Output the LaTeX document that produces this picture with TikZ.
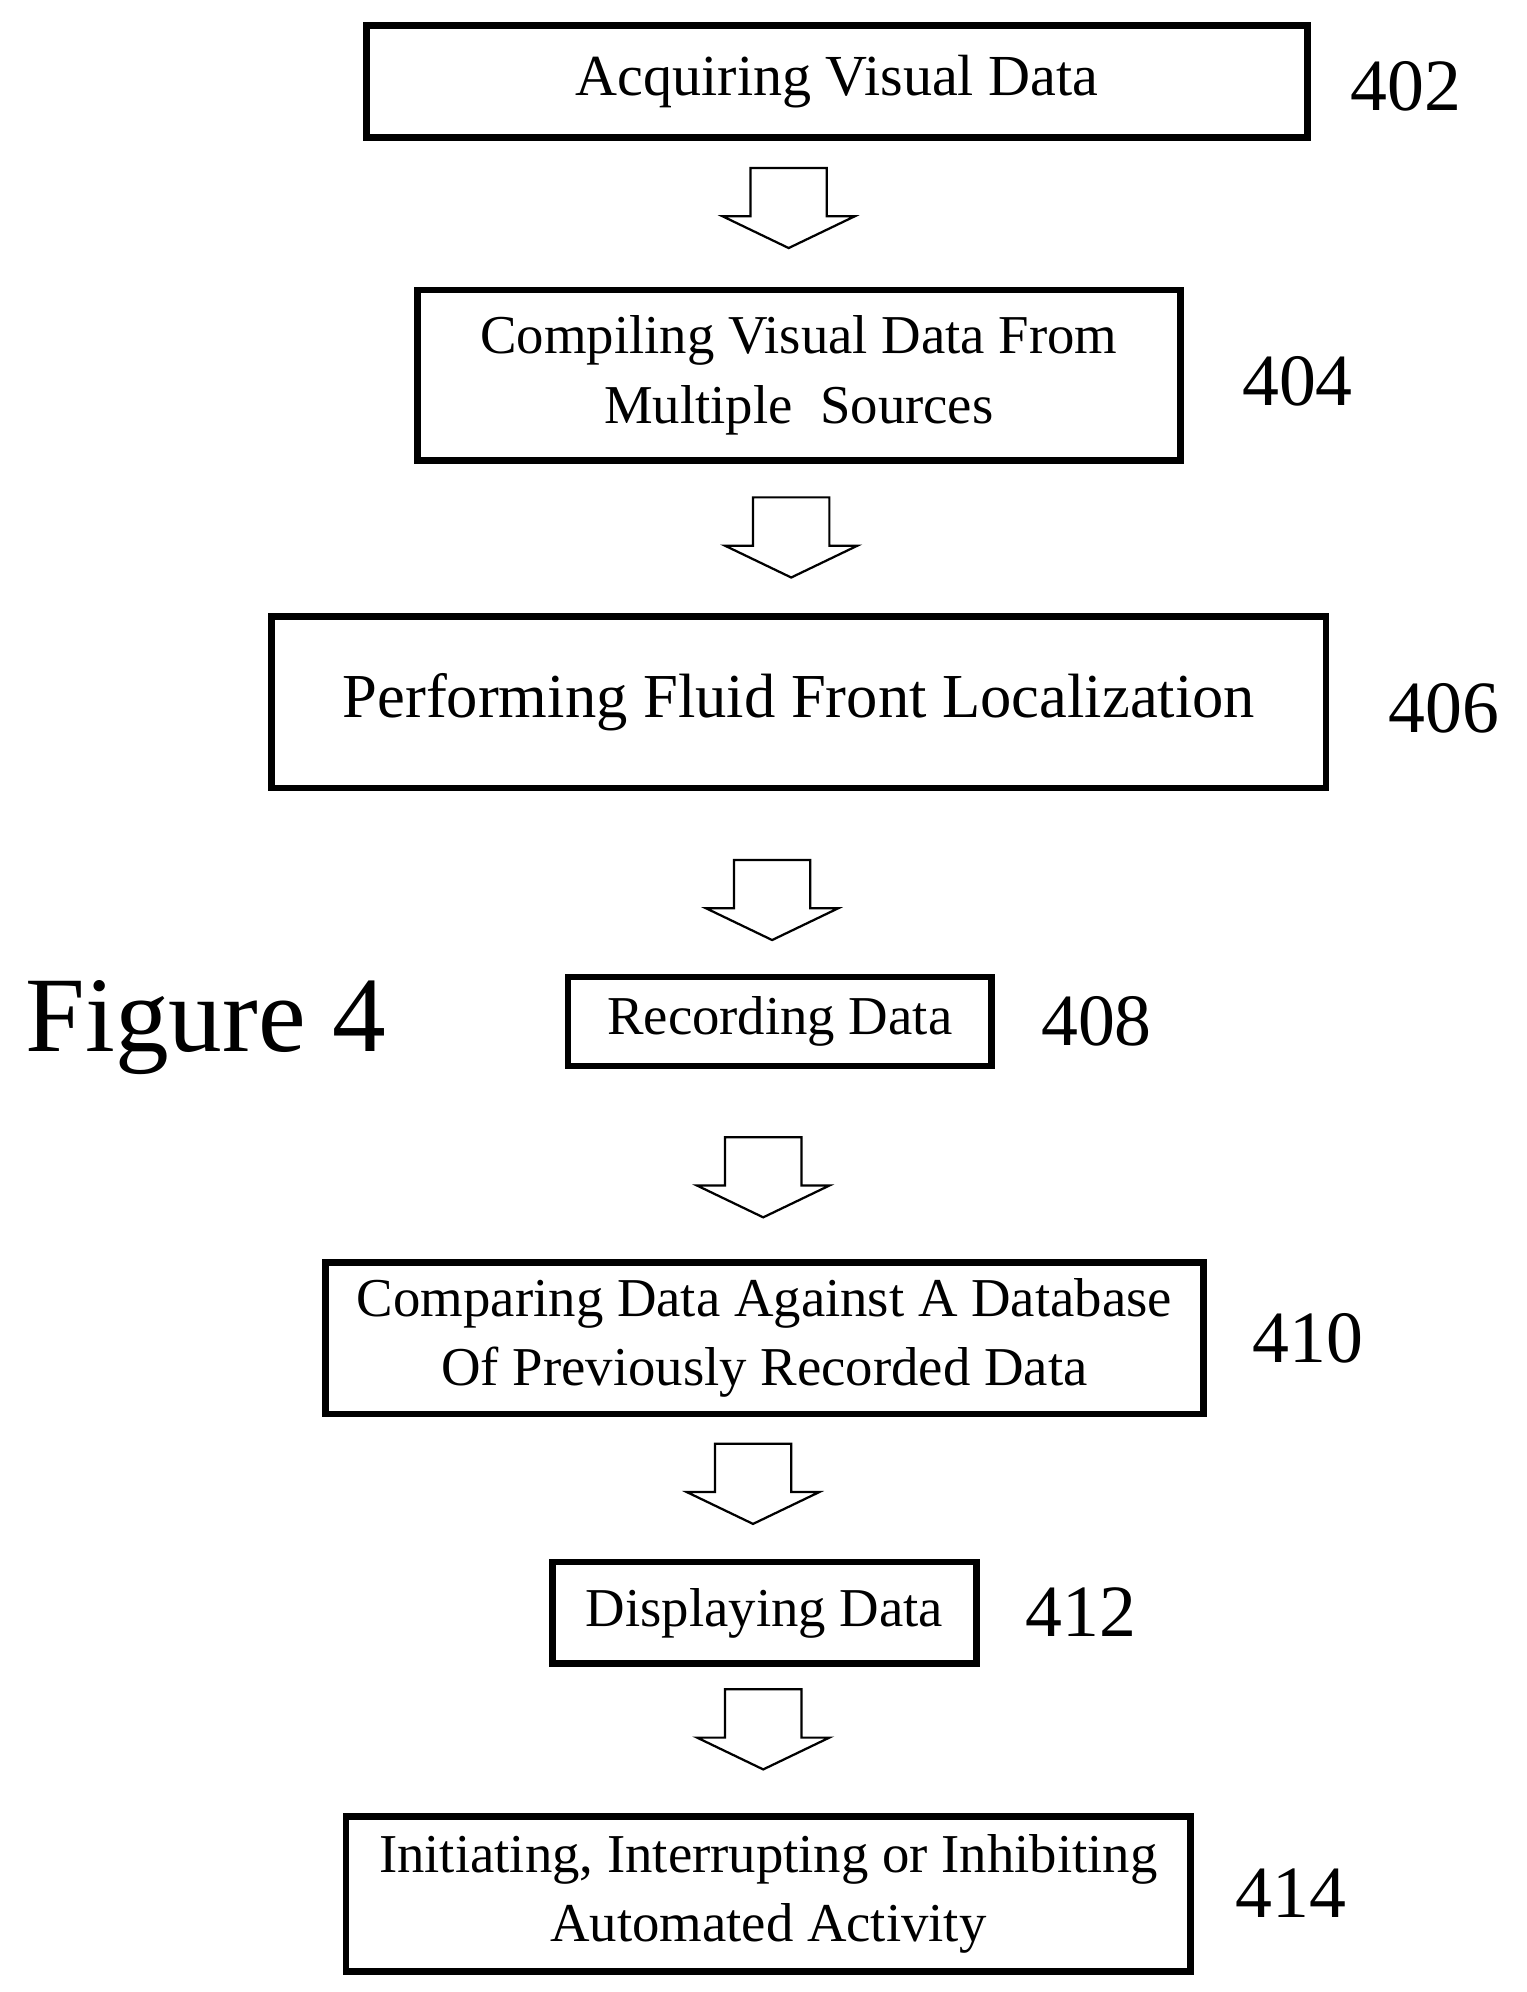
\documentclass[tikz,border=0pt]{standalone}
\usepackage{fontspec}
\setmainfont{Liberation Serif}
\usetikzlibrary{positioning,calc}
\tikzset{
  stepbox/.style={draw, line width=3pt, inner sep=0pt, align=center, font=\fontsize{24.5}{31}\selectfont},
  num/.style={font=\fontsize{33}{34}\selectfont},
  blockarrow/.style={draw, line width=1pt, fill=white},
}
% block arrow below a point
\newcommand{\downarrowat}[1]{%
  \draw[blockarrow] ($(#1)+(-30,0)$) -- ++(60,0) -- ++(0,38) -- ++(22,0)
    -- ($(#1)+(0,63)$) -- ($(#1)+(-52,38)$) -- ++(22,0) -- cycle;}
\begin{document}
\begin{tikzpicture}[x=0.02cm, y=-0.02cm]
\useasboundingbox (0,0) rectangle (1200,1566);

% steps
\node[stepbox, minimum width=740*0.02cm, minimum height=88*0.02cm, font=\fontsize{26}{30}\selectfont] (s402) at (658,64) {Acquiring Visual Data};
\node[stepbox, minimum width=600*0.02cm, minimum height=134*0.02cm] (s404) at (628,295) {Compiling Visual Data From\\Multiple\ \ Sources};
\node[stepbox, minimum width=829*0.02cm, minimum height=135*0.02cm, font=\fontsize{28}{30}\selectfont] (s406) at (628,552) {Performing Fluid Front Localization};
\node[stepbox, minimum width=333*0.02cm, minimum height=70*0.02cm] (s408) at (613,803) {Recording Data};
\node[stepbox, minimum width=690*0.02cm, minimum height=119*0.02cm] (s410) at (601,1052) {Comparing Data Against A Database\\Of Previously Recorded Data};
\node[stepbox, minimum width=333*0.02cm, minimum height=80*0.02cm] (s412) at (601,1268) {Displaying Data};
\node[stepbox, minimum width=664*0.02cm, minimum height=122*0.02cm] (s414) at (604,1489) {Initiating, Interrupting or Inhibiting\\Automated Activity};

% reference numbers
\node[num] (n402) at (1105,68) {402};
\node[num] (n404) at (1020,300) {404};
\node[num] (n406) at (1135,557) {406};
\node[num] (n408) at (862,803) {408};
\node[num] (n410) at (1028,1052) {410};
\node[num] (n412) at (850,1267) {412};
\node[num] (n414) at (1015,1488) {414};

\node[font=\fontsize{48}{50}\selectfont] (fig) at (162,808) {Figure 4};

% arrows
\coordinate (a1) at (620,132);
\coordinate (a2) at (622,391);
\coordinate (a3) at (607,676);
\coordinate (a4) at (600,894);
\coordinate (a5) at (592,1135);
\coordinate (a6) at (600,1328);
\foreach \a in {a1,a2,a3,a4,a5,a6} {\downarrowat{\a}}

\end{tikzpicture}
\end{document}
